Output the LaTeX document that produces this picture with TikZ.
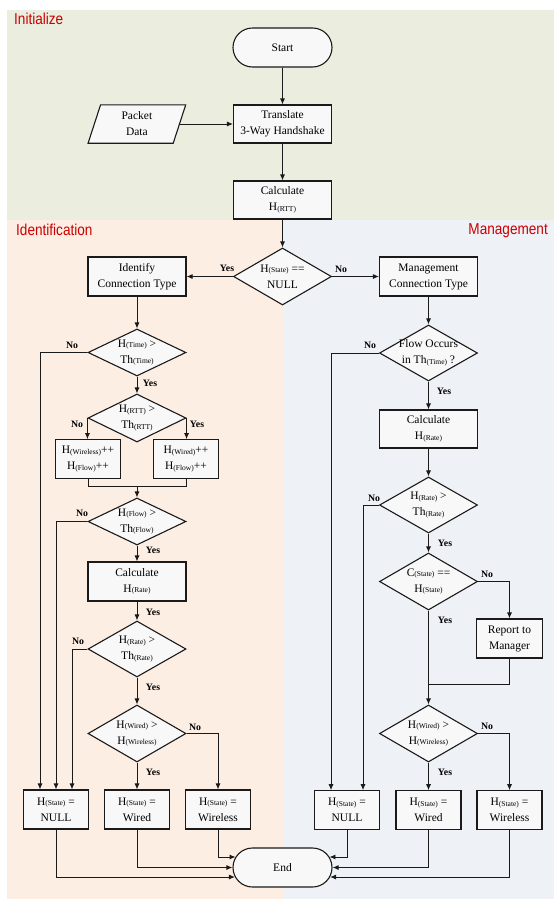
\documentclass[tikz,border=0pt]{standalone}
\usepackage{fontspec}
\setmainfont{Liberation Serif}
\newfontfamily\redsans[FakeStretch=0.86]{Liberation Sans}
\usetikzlibrary{shapes.geometric,shapes.misc,arrows.meta,calc}
\definecolor{initbg}{HTML}{EBEEDF}
\definecolor{identbg}{HTML}{FDEEE4}
\definecolor{mgmtbg}{HTML}{EEF1F6}
\definecolor{boxfill}{HTML}{F8F8F8}
\definecolor{redlbl}{HTML}{CC0000}
\definecolor{ink}{HTML}{1A1A1A}
\newcommand{\sbs}[1]{\raisebox{-0.6pt}{\fontsize{7.5}{8}\selectfont #1}}
\begin{document}
\begin{tikzpicture}[x=1pt,y=-1pt,
  font=\fontsize{11.5}{16}\selectfont,
  proc/.style={rectangle, draw=ink, line width=1.1pt, fill=boxfill, inner sep=0pt, align=center, minimum width=98pt, minimum height=39pt},
  small/.style={proc, minimum width=65pt, minimum height=38.5pt},
  term/.style={rounded rectangle, draw=ink, line width=1.1pt, fill=boxfill, minimum width=99pt, minimum height=39pt, inner sep=0pt},
  dec/.style={diamond, draw=ink, line width=1.1pt, fill=boxfill, inner sep=0pt, minimum width=98pt},
  dl/.style={label={[align=center]center:{#1}}},
  conn/.style={draw=ink, line width=0.9pt, -{Latex[length=6pt,width=5pt]}},
  plain/.style={draw=ink, line width=0.9pt},
  yn/.style={font=\fontsize{9.8}{10}\selectfont\bfseries, inner sep=0pt},
  region/.style={font=\redsans\fontsize{15.8}{16}\selectfont, text=redlbl, inner sep=0pt}
]
\useasboundingbox (0,0) rectangle (554,900);
% backgrounds
\fill[initbg] (7,10) rectangle (554,219.5);
\fill[identbg] (7,219.5) rectangle (283.5,899);
\fill[mgmtbg] (283.5,219.5) rectangle (554,899);
\node[region, anchor=base west] (tinit) at (14,24) {Initialize};
\node[region, anchor=base west] (tident) at (16,235) {Identification};
\node[region, anchor=base east] (tmgmt) at (548,234) {Management};

% initialize
\node[term] (start) at (282.5,47.5) {Start};
\node[proc, minimum height=38pt] (translate) at (282.5,124) {Translate\\3-Way Handshake};
\node[proc, minimum height=38pt] (calc1) at (282.5,200) {Calculate\\H\sbs{(RTT)}};
\node[rectangle, inner sep=0pt, minimum width=84.75pt, minimum height=38pt] (packet) at (136.9,124) {};
\draw[ink, line width=1.1pt, fill=boxfill] ([xshift=-6.25pt]packet.south west) -- ([xshift=-6.25pt]packet.south east) -- ([xshift=6.25pt]packet.north east) -- ([xshift=6.25pt]packet.north west) -- cycle;
\node[align=center, inner sep=0pt] (packettext) at (packet.center) {Packet\\Data};

\node[dec, minimum height=57pt, dl={H\sbs{(State)} ==\\NULL}] (dstate) at (282.5,276.5) {};

% identification
\node[proc] (ident) at (137,276.5) {Identify\\Connection Type};
\node[dec, minimum height=47pt, dl={H\sbs{(Time)} >\\Th\sbs{(Time)}}] (dtime) at (137,352.5) {};
\node[dec, minimum height=48pt, dl={H\sbs{(RTT)} >\\Th\sbs{(RTT)}}] (drtt) at (137,418) {};
\node[small] (wlessinc) at (88,459) {H\sbs{(Wireless)}++\\H\sbs{(Flow)}++};
\node[small] (wiredinc) at (186,459) {H\sbs{(Wired)}++\\H\sbs{(Flow)}++};
\coordinate (merge) at (137,486);
\node[dec, minimum height=47pt, dl={H\sbs{(Flow)} >\\Th\sbs{(Flow)}}] (dflow) at (137,521.5) {};
\node[proc] (calc2) at (137,581.5) {Calculate\\H\sbs{(Rate)}};
\node[dec, minimum height=56pt, dl={H\sbs{(Rate)} >\\Th\sbs{(Rate)}}] (drate) at (137,649) {};
\node[dec, minimum height=57pt, dl={H\sbs{(Wired)} >\\H\sbs{(Wireless)}}] (dwired) at (137,733.5) {};
\node[small, minimum height=39pt] (nullL) at (56,809.5) {H\sbs{(State)} =\\NULL};
\node[small, minimum height=39pt] (wiredL) at (137,809.5) {H\sbs{(State)} =\\Wired};
\node[small, minimum height=39pt] (wirelessL) at (218,809.5) {H\sbs{(State)} =\\Wireless};

\node[term] (end) at (282.5,867.5) {End};

% management
\node[proc] (mgmt) at (428.5,276.5) {Management\\Connection Type};
\node[dec, minimum height=56pt, dl={Flow Occurs\\in Th\sbs{(Time)} ?}] (dfo) at (428.5,353) {};
\node[proc, minimum height=38pt] (calc3) at (428.5,429) {Calculate\\H\sbs{(Rate)}};
\node[dec, minimum height=56pt, dl={H\sbs{(Rate)} >\\Th\sbs{(Rate)}}] (drateR) at (428.5,505) {};
\node[dec, minimum height=57pt, dl={C\sbs{(State)} ==\\H\sbs{(State)}}] (dcs) at (428.5,581.5) {};
\node[small, minimum width=66pt, minimum height=39pt] (report) at (509.5,638.5) {Report to\\Manager};
\coordinate (joinR) at (428.5,684);
\node[dec, minimum height=57pt, dl={H\sbs{(Wired)} >\\H\sbs{(Wireless)}}] (dwiredR) at (428.5,733.5) {};
\node[small] (nullR) at (347,810) {H\sbs{(State)} =\\NULL};
\node[small] (wiredR) at (428.5,810) {H\sbs{(State)} =\\Wired};
\node[small] (wirelessR) at (509.5,810) {H\sbs{(State)} =\\Wireless};

% end entry points
\coordinate (eA) at ($(end.west)+(3.1,-10.5)$);
\coordinate (eB) at (end.west);
\coordinate (eC) at ($(end.west)+(2.5,9.5)$);
\coordinate (eD) at ($(end.east)+(-3.1,-10.5)$);
\coordinate (eE) at (end.east);
\coordinate (eF) at ($(end.east)+(-2.5,9.5)$);

% connectors: initialize
\draw[conn] (start) -- (translate);
\draw[conn] (packet) -- (translate);
\draw[conn] (translate) -- (calc1);
\draw[conn] (calc1) -- (dstate);
\draw[conn] (dstate) -- (ident);
\draw[conn] (dstate) -- (mgmt);

% connectors: identification
\draw[conn] (ident) -- (dtime);
\draw[conn] (dtime.west) -| ([xshift=-16pt]nullL.north);
\draw[conn] (dtime) -- (drtt);
\draw[conn] (drtt.west) -- (drtt.west |- wlessinc.north);
\draw[conn] (drtt.east) -- (drtt.east |- wiredinc.north);
\draw[plain] (wlessinc.south) |- (merge);
\draw[plain] (wiredinc.south) |- (merge);
\draw[conn] (merge) -- (dflow);
\draw[conn] (dflow.west) -| (nullL.north);
\draw[conn] (dflow) -- (calc2);
\draw[conn] (calc2) -- (drate);
\draw[conn] (drate.west) -| ([xshift=16pt]nullL.north);
\draw[conn] (drate) -- (dwired);
\draw[conn] (dwired) -- (wiredL);
\draw[conn] (dwired.east) -| (wirelessL.north);
\draw[conn] (wirelessL.south) |- (eA);
\draw[conn] (wiredL.south) |- (eB);
\draw[conn] (nullL.south) |- (eC);

% connectors: management
\draw[conn] (mgmt) -- (dfo);
\draw[conn] (dfo.west) -| ([xshift=-16pt]nullR.north);
\draw[conn] (dfo) -- (calc3);
\draw[conn] (calc3) -- (drateR);
\draw[conn] (drateR.west) -| ([xshift=16pt]nullR.north);
\draw[conn] (drateR) -- (dcs);
\draw[conn] (dcs.east) -| (report.north);
\draw[conn] (dcs) -- (dwiredR);
\draw[plain] (report.south) |- (joinR);
\draw[conn] (dwiredR) -- (wiredR);
\draw[conn] (dwiredR.east) -| (wirelessR.north);
\draw[conn] (nullR.south) |- (eD);
\draw[conn] (wiredR.south) |- (eE);
\draw[conn] (wirelessR.south) |- (eF);

% yes / no labels
\node[yn] (l1) at (227,268) {Yes};
\node[yn] (l2) at (341,269) {No};
\node[yn] (l3) at (72,345) {No};
\node[yn] (l4) at (150,383) {Yes};
\node[yn] (l5) at (77,424) {No};
\node[yn] (l6) at (197,424) {Yes};
\node[yn] (l7) at (82,513) {No};
\node[yn] (l8) at (153,550) {Yes};
\node[yn] (l9) at (153,612) {Yes};
\node[yn] (l10) at (78,641) {No};
\node[yn] (l11) at (153,687) {Yes};
\node[yn] (l12) at (195,727) {No};
\node[yn] (l13) at (153,772) {Yes};
\node[yn] (r1) at (370,345) {No};
\node[yn] (r2) at (444,391) {Yes};
\node[yn] (r3) at (374,498) {No};
\node[yn] (r4) at (445,543) {Yes};
\node[yn] (r5) at (487,574) {No};
\node[yn] (r6) at (445,620) {Yes};
\node[yn] (r7) at (487,726) {No};
\node[yn] (r8) at (445,772) {Yes};
\end{tikzpicture}
\end{document}
